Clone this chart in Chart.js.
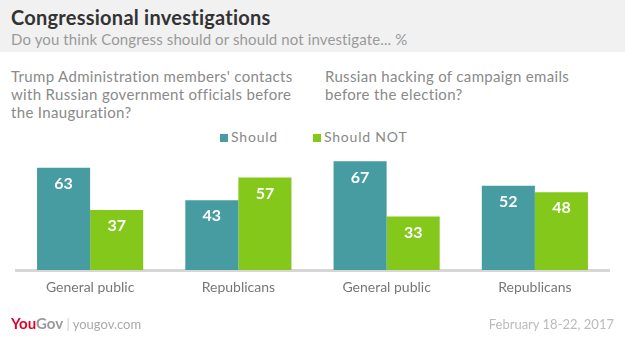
<!DOCTYPE html>
<html>
<head>
<meta charset="utf-8">
<script src="https://cdn.jsdelivr.net/npm/chart.js@4"></script>
<style>
  body { margin: 0; background: #fff; font-family: Lato, sans-serif; }
  #wrap { position: relative; width: 625px; height: 347px; overflow: hidden; }
  #head { position: absolute; left: 0; top: 0; width: 625px; height: 52px; background: #f1f1f1; }
  #title { position: absolute; left: 11px; top: 5px; font-size: 20px; font-weight: bold; color: #333; letter-spacing: 0.25px; }
  #sub { position: absolute; left: 11px; top: 30px; font-size: 15px; color: #9a9a9a; letter-spacing: 0.12px; }
  .q { position: absolute; top: 67px; font-size: 15px; line-height: 18px; color: #8a8a8a; letter-spacing: 0.33px; }
  #legend { position: absolute; top: 128px; left: 220px; font-size: 14px; color: #888; white-space: nowrap; letter-spacing: 0.8px; }
  #legend span.box { display: inline-block; width: 8px; height: 8px; margin-right: 3px; }
  #chartBox { position: absolute; left: 0; top: 150px; width: 625px; height: 165px; }
  #foot { position: absolute; left: 11px; top: 314px; font-size: 13px; color: #aaa; }
  #logo { font-weight: bold; font-size: 15px; }
  #date { position: absolute; right: 11px; top: 316px; font-size: 13px; color: #bbb; }
</style>
</head>
<body>
<div id="wrap">
  <div id="head"></div>
  <div id="title">Congressional investigations</div>
  <div id="sub">Do you think Congress should or should not investigate... %</div>
  <div class="q" style="left:11px">Trump Administration members' contacts<br>with Russian government officials before<br>the Inauguration?</div>
  <div class="q" style="left:325px">Russian hacking of campaign emails<br>before the election?</div>
  <div id="legend"></div>
  <div id="chartBox"><canvas id="bar-chart"></canvas></div>
  <div id="foot"><span id="logo"><span style="color:#e4002b">You</span><span style="color:#999">Gov</span></span> <span style="color:#ccc">|</span> yougov.com</div>
  <div id="date">February 18-22, 2017</div>
</div>
<script>
var categories = ["General public", "Republicans", "General public", "Republicans"];
var seriesNames = ["Should", "Should NOT"];
var seriesColors = ["#469ca0", "#84c81b"];
var shouldValues = [63, 43, 67, 52];
var shouldNotValues = [37, 57, 33, 48];

// white value labels drawn inside the top of each bar
var barLabels = {
  id: "barLabels",
  afterDatasetsDraw: function (chart) {
    var ctx = chart.ctx;
    ctx.save();
    ctx.fillStyle = "#fff";
    ctx.font = "bold 16px Lato, sans-serif";
    ctx.textAlign = "center";
    ctx.textBaseline = "middle";
    chart.data.datasets.forEach(function (ds, i) {
      chart.getDatasetMeta(i).data.forEach(function (bar, j) {
        ctx.fillText(ds.data[j], bar.x, bar.y + 16);
      });
    });
    ctx.restore();
  },
};

function buildLegend() {
  var html = "";
  seriesNames.forEach(function (name, i) {
    html +=
      '<span class="box" style="background:' + seriesColors[i] + '"></span>' +
      '<span style="margin-right:' + (i == 0 ? 35 : 0) + 'px">' + name + "</span>";
  });
  document.getElementById("legend").innerHTML = html;
}

function investigationsChart() {
  new Chart(document.getElementById("bar-chart"), {
    type: "bar",
    data: {
      labels: categories,
      datasets: [
        {
          label: seriesNames[0],
          backgroundColor: seriesColors[0],
          data: shouldValues,
        },
        {
          label: seriesNames[1],
          backgroundColor: seriesColors[1],
          data: shouldNotValues,
        },
      ],
    },
    options: {
      responsive: true,
      maintainAspectRatio: false,
      animation: false,
      categoryPercentage: 0.716,
      barPercentage: 1,
      layout: { padding: { left: 16, right: 16, top: 0, bottom: 0 } },
      plugins: {
        tooltip: { enabled: false },
        legend: { display: false },
      },
      scales: {
        x: {
          grid: { display: false },
          border: { display: true, color: "#d6d6d6", width: 3 },
          ticks: {
            color: "#777",
            padding: 1,
            font: { family: "Lato, sans-serif", size: 14 },
          },
          afterFit: function (scale) {
            scale.height = 45;
          },
        },
        y: {
          display: false,
          min: 0,
          max: 74,
        },
      },
    },
    plugins: [barLabels],
  });
}

document.addEventListener("DOMContentLoaded", function () {
  buildLegend();
  investigationsChart();
});
</script>
</body>
</html>
